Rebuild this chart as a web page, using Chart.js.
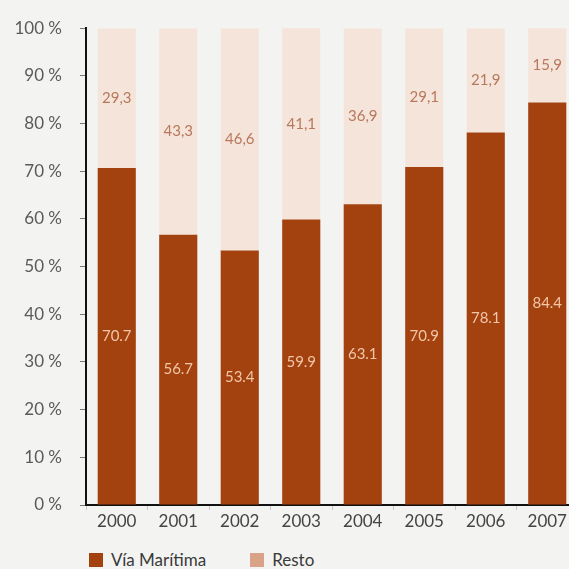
<!DOCTYPE html>
<html>
<head>
<meta charset="utf-8">
<script src="https://cdn.jsdelivr.net/npm/chart.js@4"></script>
<style>
  html, body { margin: 0; padding: 0; background: #f3f3f1; overflow: hidden; }
  #wrap { position: relative; width: 580px; height: 569px; }
  #chart-box { position: absolute; left: 0; top: 0; width: 580px; height: 540px; }
  .legend { position: absolute; top: 549px; left: 89px; font-family: Lato, 'DejaVu Sans', sans-serif; font-size: 17px; color: #3a3a3a; display: flex; align-items: center; }
  .legend span.box { display: inline-block; width: 14px; height: 14px; margin-right: 8px; }
  .legend .item { display: flex; align-items: center; margin-right: 44px; }
</style>
</head>
<body>
<div id="wrap">
  <div id="chart-box"><canvas id="chart"></canvas></div>
  <div class="legend">
    <div class="item"><span class="box" style="background:#a3420f"></span>Vía Marítima</div>
    <div class="item"><span class="box" style="background:#d9a387"></span>Resto</div>
  </div>
</div>
<script>
// years on the x axis
const years = ['2000', '2001', '2002', '2003', '2004', '2005', '2006', '2007'];
// share by sea vs the rest, in %
const viaMaritima = [70.7, 56.7, 53.4, 59.9, 63.1, 70.9, 78.1, 84.4];
const resto = [29.3, 43.3, 46.6, 41.1, 36.9, 29.1, 21.9, 15.9];
const yTicks = [0, 10, 20, 30, 40, 50, 60, 70, 80, 90, 100];

const darkColor = '#a3420f';
const lightColor = '#f4e4da';
const fontFamily = 'Lato, "DejaVu Sans", sans-serif';

// writes the value in the middle of the visible part of each bar
const barLabels = {
  id: 'barLabels',
  afterDatasetsDraw(chart) {
    const ctx = chart.ctx;
    const area = chart.chartArea;
    ctx.save();
    ctx.font = '15px ' + fontFamily;
    ctx.textAlign = 'center';
    ctx.textBaseline = 'middle';
    chart.data.datasets.forEach((ds, i) => {
      const meta = chart.getDatasetMeta(i);
      meta.data.forEach((bar, j) => {
        const top = Math.max(bar.y, area.top);
        const bottom = Math.min(bar.base, area.bottom);
        const txt = i === 0 ? ds.data[j].toFixed(1) : ds.data[j].toFixed(1).replace('.', ',');
        ctx.fillStyle = ds.labelColor;
        ctx.fillText(txt, bar.x, (top + bottom) / 2);
      });
    });
    ctx.restore();
  }
};

new Chart(document.getElementById('chart'), {
  type: 'bar',
  data: {
    labels: years,
    datasets: [
      {
        label: 'Vía Marítima',
        data: viaMaritima,
        backgroundColor: darkColor,
        labelColor: '#f1c6a8',
        categoryPercentage: 1,
        barPercentage: 0.62,
      },
      {
        label: 'Resto',
        data: resto,
        backgroundColor: lightColor,
        labelColor: '#b8785c',
        categoryPercentage: 1,
        barPercentage: 0.62,
      },
    ],
  },
  options: {
    responsive: true,
    maintainAspectRatio: false,
    animation: false,
    layout: { padding: { top: 24, right: 2, left: 0, bottom: 0 } },
    plugins: {
      legend: { display: false },
      tooltip: { enabled: false },
    },
    scales: {
      x: {
        stacked: true,
        grid: { offset: true, drawOnChartArea: false, tickLength: 5, color: '#c8c8c8' },
        border: { display: true, color: '#111', width: 2 },
        ticks: { color: '#444', font: { family: fontFamily, size: 17 }, padding: 1 },
        afterFit: (scale) => { scale.height = 35; },
      },
      y: {
        stacked: true,
        min: 0,
        max: 100,
        afterBuildTicks: (scale) => { scale.ticks = yTicks.map((v) => ({ value: v })); },
        grid: { drawOnChartArea: false, tickLength: 6, color: '#777' },
        border: { display: true, color: '#111', width: 2 },
        ticks: {
          color: '#5a5a5a',
          font: { family: fontFamily, size: 17 },
          padding: 18,
          callback: (v) => v + ' %',
        },
        afterFit: (scale) => { scale.width = 86; },
      },
    },
  },
  plugins: [barLabels],
});
</script>
</body>
</html>
